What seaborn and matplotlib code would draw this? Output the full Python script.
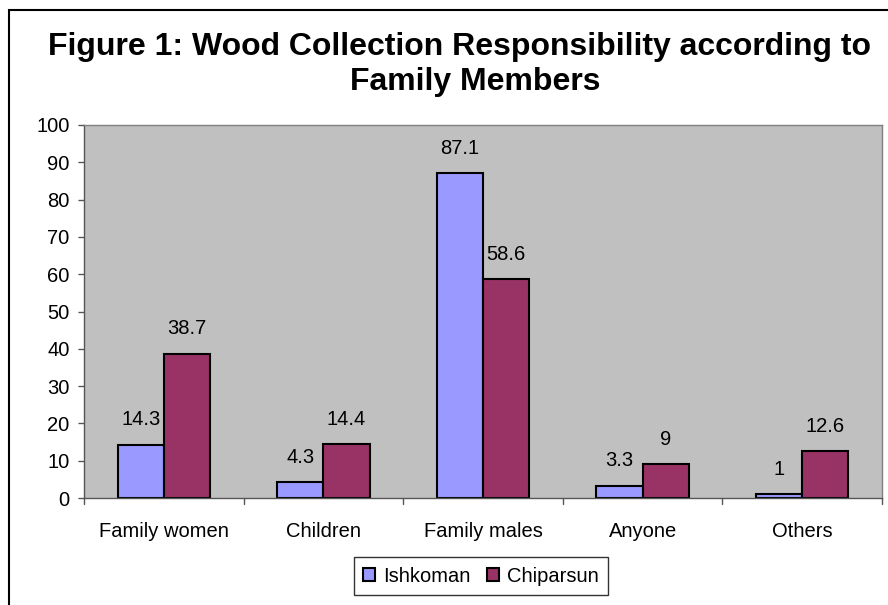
import pandas as pd
import matplotlib.pyplot as plt
import seaborn as sns
from matplotlib.patches import Rectangle

categories = ['Family women', 'Children', 'Family males', 'Anyone', 'Others']
ishkoman = [14.3, 4.3, 87.1, 3.3, 1]
chiparsun = [38.7, 14.4, 58.6, 9, 12.6]
labels_ish = ['14.3', '4.3', '87.1', '3.3', '1']
labels_chi = ['38.7', '14.4', '58.6', '9', '12.6']
sites = ['Ishkoman', 'Chiparsun']

df = pd.DataFrame({
    'category': categories * 2,
    'value': ishkoman + chiparsun,
    'site': [sites[0]] * 5 + [sites[1]] * 5,
})

sns.set_style('white')
plt.rcParams['font.family'] = ['Liberation Sans', 'DejaVu Sans']
plt.rcParams['text.color'] = 'black'
plt.rcParams['xtick.color'] = 'black'
plt.rcParams['ytick.color'] = 'black'

fig = plt.figure(figsize=(8.88, 6.05), dpi=100)
ax = fig.add_axes([84/888, 1 - 498/605, (882-84)/888, (498-125)/605])

sns.barplot(data=df, x='category', y='value', hue='site',
            palette=['#9999FF', '#993366'], edgecolor='black', linewidth=1.5,
            width=0.58, saturation=1, ax=ax)

ax.set_facecolor('#C0C0C0')
ax.set_ylim(0, 100)
ax.set_xlim(-0.5, 4.5)
ax.set_yticks(range(0, 101, 10))
ax.tick_params(axis='y', labelsize=14.5, length=4.5, width=1, color='#555555',
               labelcolor='black', pad=6, left=True)
ax.set_xticks(range(5))
ax.set_xticklabels(categories, fontsize=14.5)
ax.tick_params(axis='x', length=0, pad=17, labelcolor='black')
# category separators below the axis, Excel style
for x in [-0.5, 0.5, 1.5, 2.5, 3.5, 4.5]:
    ax.plot([x, x], [0, -0.017], transform=ax.get_xaxis_transform(),
            color='#555555', lw=1, clip_on=False)
for s in ax.spines.values():
    s.set_color('#808080')
    s.set_linewidth(1)
ax.spines['left'].set_color('#555555')
ax.spines['bottom'].set_color('#555555')
ax.set_xlabel('')
ax.set_ylabel('')

for cont, labs in zip(ax.containers, [labels_ish, labels_chi]):
    ax.bar_label(cont, labels=labs, padding=11, fontsize=14.5, color='black')

ax.legend(loc='center', bbox_to_anchor=(481/888, 1 - 576/605),
          bbox_transform=fig.transFigure, ncol=2, fontsize=14.5, frameon=True,
          fancybox=False, edgecolor='black', handlelength=0.6, handleheight=0.6,
          handletextpad=0.4, columnspacing=0.8, borderpad=0.45)
ax.get_legend().get_frame().set_linewidth(1)

fig.text(459/888, 1 - 54.5/605, 'Figure 1: Wood Collection Responsibility according to',
         ha='center', va='baseline', fontsize=23, fontweight='bold')
fig.text(475.5/888, 1 - 90/605, 'Family Members',
         ha='center', va='baseline', fontsize=23, fontweight='bold')

fig.patches.append(Rectangle((9/888, -0.1), 1.2, 1 - 10/605 + 0.1, fill=False,
                             edgecolor='black', lw=1.5, transform=fig.transFigure))

fig.savefig('out.png', dpi=100)
